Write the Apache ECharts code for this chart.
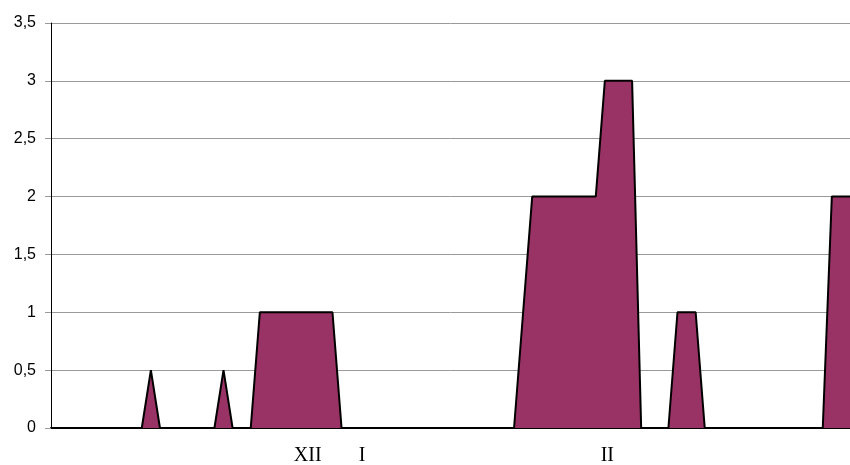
<!DOCTYPE html>
<html>
<head>
<meta charset="utf-8">
<script src="https://cdn.jsdelivr.net/npm/echarts@6/dist/echarts.min.js"></script>
<style>
  html, body { margin: 0; padding: 0; background: #fff; overflow: hidden; }
  #chart { width: 850px; height: 465px; }
</style>
</head>
<body>
<div id="chart"></div>
<script>
// Month markers along the time axis (empty strings are unlabeled steps)
const monthLabels = {28: 'XII', 34: 'I', 61: 'II'};
const stepCount = 89;

// Observed values per step
const values = [
  0, 0, 0, 0, 0, 0, 0, 0, 0, 0,
  0, 0.5, 0, 0, 0, 0, 0, 0, 0, 0.5,
  0, 0, 0, 1, 1, 1, 1, 1, 1, 1,
  1, 1, 0, 0, 0, 0, 0, 0, 0, 0,
  0, 0, 0, 0, 0, 0, 0, 0, 0, 0,
  0, 0, 1, 2, 2, 2, 2, 2, 2, 2,
  2, 3, 3, 3, 3, 0, 0, 0, 0, 1,
  1, 1, 0, 0, 0, 0, 0, 0, 0, 0,
  0, 0, 0, 0, 0, 0, 2, 2, 2
];

const categories = [];
for (let i = 0; i < stepCount; i++) categories.push(monthLabels[i] || '');

const chart = echarts.init(document.getElementById('chart'), null, { renderer: 'canvas', width: 850, height: 465 });

chart.setOption({
  animation: false,
  backgroundColor: '#ffffff',
  grid: { left: 51, right: 0, top: 23, bottom: 37, containLabel: false, outerBoundsMode: 'none' },
  xAxis: {
    type: 'category',
    data: categories,
    boundaryGap: false,
    axisLine: { show: true, lineStyle: { color: '#000', width: 2 } },
    axisTick: { show: false },
    splitLine: { show: false },
    axisLabel: {
      interval: 0,
      margin: 18,
      padding: [0, 0, 0, 5],
      fontFamily: '"Liberation Serif", "DejaVu Serif", serif',
      fontSize: 20,
      lineHeight: 20,
      color: '#000'
    }
  },
  yAxis: {
    type: 'value',
    min: 0,
    max: 3.5,
    interval: 0.5,
    axisLine: { show: true, lineStyle: { color: '#000', width: 1 } },
    axisTick: { show: true, length: 6, lineStyle: { color: '#999' } },
    splitLine: { show: true, lineStyle: { color: '#999', width: 1 } },
    axisLabel: {
      margin: 15,
      fontFamily: '"Liberation Sans", Arial, sans-serif',
      fontSize: 16,
      color: '#000',
      formatter: v => String(v).replace('.', ',')
    }
  },
  series: [{
    type: 'line',
    data: values,
    symbol: 'none',
    lineStyle: { color: '#000', width: 2 },
    areaStyle: { color: '#993366', opacity: 1 }
  }]
});
</script>
</body>
</html>
